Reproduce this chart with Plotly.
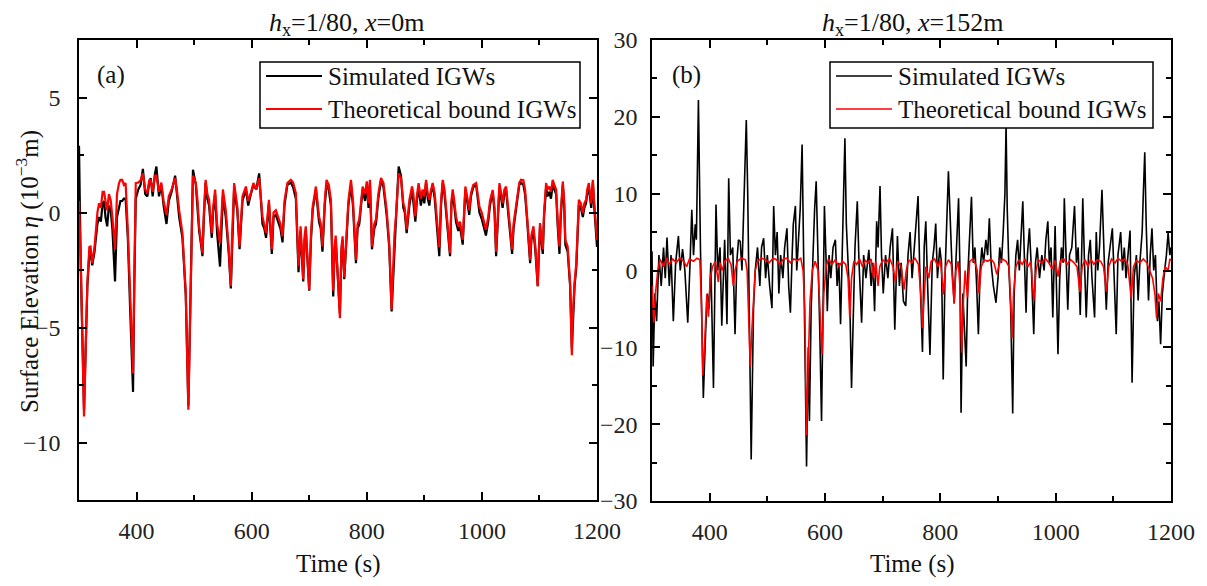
import plotly.graph_objects as go

# ---------------- Panel (a): x = 0 m ----------------
t_a = [300, 303, 308.7, 311, 314.5, 318, 320, 323, 327, 329, 332, 334.8, 338, 341, 343.5, 346, 349, 352, 355, 358,
       362.6, 366, 369.6, 372, 375, 378, 381, 385, 389, 393.9, 396, 398.6, 403, 407, 411, 415, 418.8, 422, 424.6, 428,
       432, 434.5, 439, 443, 447, 452, 456, 461, 467, 470, 474, 479.7, 485.5, 490, 492, 494, 496, 498, 503, 506,
       508.7, 512, 514.5, 517, 520, 523, 526, 530.7, 533, 536.5, 540, 545, 550, 555, 560, 563.8, 566, 569.6, 572, 575,
       579, 584, 590, 594, 598.6, 603, 608, 613, 618.8, 622, 625, 630, 635, 638, 642, 646, 650, 653.6, 657, 662,
       668, 672, 676.8, 681.4, 685, 689.6, 692, 694, 697, 700, 703, 706, 711.6, 714, 717, 720, 723, 727, 730, 734,
       737.7, 741.7, 744, 746, 749, 753.3, 756, 758, 760.9, 765, 768, 772.5, 776, 781.2, 784, 787, 790, 792.8, 797, 800,
       803, 805.5, 809, 813, 816, 820, 824.7, 829, 834.5, 839, 843.2, 846, 848, 850.7, 855.4, 859.4, 863.5, 866, 869.3, 874,
       878.6, 881, 884.4, 887, 890, 894, 897, 900, 903, 906, 908.7, 911, 914.5, 918, 922, 926, 929, 932, 935, 938.9,
       941, 944.7, 947, 949.3, 952, 955, 959, 962, 966.7, 969, 971.3, 975, 978, 981, 985, 990, 993, 995.7, 1000, 1003,
       1007, 1011, 1014, 1018.8, 1022, 1024.7, 1027, 1030.5, 1033, 1036, 1039, 1042, 1046, 1049, 1052.5, 1055, 1058, 1062.3, 1065, 1068,
       1072, 1075, 1078.5, 1081, 1083.8, 1086, 1089.6, 1093, 1097, 1099, 1101, 1103, 1105.8, 1108, 1111.6, 1114, 1117, 1120, 1123, 1126,
       1129, 1132, 1134.8, 1137, 1140.6, 1143, 1145, 1149, 1153.3, 1156.3, 1158, 1161, 1164, 1166, 1168.4, 1172, 1175.4, 1178, 1181, 1183,
       1185.8, 1190, 1192.8, 1195, 1198.6, 1200]

theo_a = [0.5, -2, -8.87, -6, -3.07, -1.5, -1.48, -2.2, -1.5, -0.9, 0, 0.4, 0.2, 0.9, 0.9, 0.5, 0.1, 0.8, 0.55, -0.2,
          -1.6, 0.8, 1.28, 1.42, 1.42, 1.2, 1.28, -0.9, -4, -7.0, -3, 1.28, 1.3, 1.4, 1.7, 1.0, 0.84, 1.4, 1.42, 0.9,
          1.6, 1.6, 0.9, 1.3, 0.5, -0.1, 0.7, 1.0, 1.5, 1.0, 0.1, -0.9, -3.5, -8.58, -6, -3.07, 0, 1.6, 1.28, 0.5,
          -0.6, -1.2, -1.77, 0, 1.42, 0.8, 0.55, -0.9, 0.2, 1.0, -0.5, -1.33, 1.0, 0.1, -1.5, -3.2, -1, 1.28, 0.8, 0.26,
          -1.48, 0.7, 1.13, 0.5, 0.84, 1.28, 1.0, 1.5, -0.17, -0.5, -0.9, 0.55, -1.6, 0, 0.1, -0.2, -0.5, -1.04, 0.5, 1.28,
          1.42, 1.3, 0.84, -2.35, -0.6, -2.9, -1, -0.6, -2, -3.36, -1, 0.26, 1.13, 0.5, -0.17, -0.5, -1.48, 0.5, 1.42, 1.2,
          0.55, -3.4, -1.5, -1, -2.5, -4.6, -1.5, -1.04, -2.8, -0.5, 0.5, 1.42, 0.55, -2.06, -0.5, -0.3, 0.5, 1.13, 0.8, 1.35,
          0.4, 1.42, -1.48, -0.5, -0.3, 0.8, 1.5, 1.28, 0.1, -1.33, -4.23, -2.5, -1, -0.17, 1.7, 1.5, 0.4, 0.2, -0.75, 0.55,
          1.13, 0.8, -0.17, 0.7, 1.28, 0.6, 1.0, 0.7, 1.42, 0.8, 0.55, 0.9, 1.28, 0.84, -0.3, -1.5, 0.5, 1.42, 1.0, -0.17,
          -0.8, -1.77, 0.5, 1.0, 0.5, -0.17, -0.6, -0.4, -1.19, 0, 1.13, 0.6, 0.1, 0.84, 1.2, 1.28, 0.8, 0.26, -0.03, -0.4,
          -0.75, -0.2, 0.5, 0.98, 0.2, -1.7, -0.5, 1.28, 0.9, 0.4, 1.0, 1.13, 0.1, -0.6, -1.6, -0.5, 0, 0.84, 1.3, 1.42,
          1.4, 1.0, -0.03, -1, -2.06, -1, -0.6, -1.5, -3.2, -1.5, -0.46, -1, -1.6, 0, 1.28, 1.0, 1.13, 0.9, 1.42, 1.2,
          1.0, -0.5, -1.48, 0, 1.35, 0.5, -1.19, -1.48, -3.07, -6.2, -4.5, -3.07, -2.2, -1, 0.55, 0.4, -0.03, 0.4, 0.55, 1.0,
          1.28, 0.4, 1.42, 0.5, -1.04, -1.2]

sim_a = [2.9, -2.3, -8.6, -6.2, -3.2, -1.8, -1.7, -2.3, -1.7, -1.2, -0.5, -0.2, -0.4, 0.4, 0.5, -0.2, -0.6, 0.3, 0.1, -0.7,
         -3.0, -0.2, 0.2, 0.5, 0.5, 0.6, 0.6, -1.2, -4.3, -7.8, -3.3, 0.6, 1.0, 1.2, 1.9, 0.8, 0.7, 1.3, 1.5, 0.7,
         1.7, 2.0, 0.7, 1.2, 0.3, -0.5, 0.5, 0.9, 1.6, 0.8, -0.2, -1.1, -3.6, -8.4, -6, -3.2, 0, 1.86, 1.2, 0.3,
         -0.8, -1.4, -1.9, -0.2, 1.3, 0.6, 0.3, -1.1, 0, 0.8, -0.9, -2.35, 0.7, -0.2, -1.7, -3.3, -1.2, 1.1, 0.6, 0.1,
         -1.6, 0.5, 1.0, 0.3, 0.8, 1.2, 1.0, 1.7, -0.5, -0.7, -1.1, 0.4, -1.8, -0.2, -0.1, -0.4, -0.7, -1.3, 0.3, 1.2,
         1.3, 1.1, 0.6, -2.6, -0.8, -3.0, -1.2, -0.8, -2.2, -3.4, -1.2, 0.1, 1.0, 0.3, -0.4, -0.7, -1.7, 0.3, 1.2, 1.0,
         0.3, -3.65, -1.7, -1.2, -2.7, -4.4, -1.7, -1.2, -2.9, -0.7, 0.3, 1.2, 0.3, -2.2, -0.7, -0.5, 0.3, 1.0, 0.5, 1.2,
         0.2, 1.3, -1.6, -0.7, -0.5, 0.6, 1.4, 1.1, -0.1, -1.5, -4.3, -2.6, -1.2, -0.3, 2.0, 1.6, 0.2, 0, -0.9, 0.3,
         1.0, 0.5, -0.4, 0.5, 1.1, 0.3, 0.8, 0.4, 1.3, 0.6, 0.3, 0.8, 1.2, 0.6, -0.5, -1.9, 0.3, 1.3, 0.8, -0.4,
         -1.0, -1.9, 0.3, 0.8, 0.3, -0.4, -0.8, -0.6, -1.4, -0.2, 1.0, 0.4, -0.1, 0.7, 1.1, 1.2, 0.6, 0, -0.3, -0.6,
         -1.0, -0.4, 0.3, 0.9, 0, -1.9, -0.7, 1.1, 0.7, 0.2, 0.8, 1.0, -0.1, -0.8, -1.8, -0.7, -0.2, 0.7, 1.2, 1.3,
         1.2, 0.8, -0.3, -1.2, -2.2, -1.2, -0.8, -1.7, -3.2, -1.7, -0.6, -1.2, -1.8, -0.2, 1.1, 0.7, 0.9, 0.6, 1.2, 1.0,
         0.8, -0.7, -1.8, -0.2, 1.2, 0.3, -1.4, -1.7, -3.2, -5.9, -4.6, -3.2, -2.4, -1.2, 0.3, 0.2, -0.2, 0.2, 0.4, 0.8,
         1.1, 0.2, 1.3, 0.3, -1.3, -1.5]

# ---------------- Panel (b): x = 152 m ----------------
t_b_sim = [300, 302, 305, 308, 312, 316, 320, 323, 326, 330, 333, 337, 341, 345.8, 349, 353, 357, 362, 366, 369,
           372, 375, 377, 380.5, 384, 389, 393, 396, 399, 402, 406.6, 409, 411, 414, 418, 421, 424, 426, 430, 433,
           436, 440, 444, 447, 450, 453, 456, 459, 461, 463.5, 466, 468, 472, 476, 479, 483, 487, 490, 493.6, 497,
           500, 504, 508, 511, 514, 517, 520, 523, 527, 530, 534, 537, 540, 543, 545, 548.7, 551, 554, 557, 560.3,
           562, 565, 568, 571, 573, 576, 579, 582, 584.7, 588, 591, 594, 597, 599, 602, 604, 607, 610, 614, 618,
           621, 624, 627, 630, 632, 634.5, 637, 640, 643, 646, 649, 652, 656, 659, 663.5, 667, 671, 676, 680, 683,
           686, 689.6, 692, 695.4, 698, 701, 705, 709, 713, 717, 721, 724, 725.6, 729, 732, 736, 740, 744, 747.5, 751,
           754, 758, 761.4, 764, 769, 772, 774.8, 778, 782, 786, 789, 792, 795, 799, 802, 805, 808, 811, 814, 817,
           820, 824, 828, 831.6, 834, 836, 839, 841, 844.8, 848, 851, 854, 857, 860, 863, 866, 869, 872, 875, 879,
           882, 885, 888, 892, 896.5, 900, 903, 906, 909, 912, 914, 916, 919, 922, 925.5, 928, 931, 934, 937, 940,
           943, 946, 948.7, 951, 954.5, 958, 962, 965, 968, 972, 976, 980, 983, 986.4, 989, 992, 995, 999, 1001, 1004,
           1007, 1010, 1013, 1015, 1018, 1021, 1024, 1028, 1032.7, 1036, 1039, 1042.6, 1045, 1047, 1050, 1053, 1057, 1060, 1063, 1067.5,
           1070.4, 1073, 1076, 1080.3, 1084, 1087.8, 1091, 1094, 1098.3, 1101, 1105, 1108, 1112.7, 1116, 1119, 1122, 1126, 1129, 1132.5, 1136,
           1140, 1143, 1146, 1150, 1152, 1154.5, 1157, 1161, 1164, 1167, 1170, 1173, 1176.5, 1179, 1182, 1185, 1189, 1192, 1195, 1198,
           1200]

sim_b = [2.5, -12.5, -3, -6.6, 2, -2, 3, -1, 4.3, -2, 2, -6.6, 1, 4.5, 0, 2.8, 0, -6.8, 1, 7.9,
         2, 6, 4, 22.2, 3, -16.6, -8, -3, -5, 1, -15.3, -2, 8.6, 0, 3, -7.2, 1, 4, -7, 12.0,
         2, 3, -8.3, 1, 4, 3.8, 0, 8, 15, 19.6, 10, 0, -24.6, -5, 0, 3, -2, 3, 4.2, -1,
         2, -2, -4.9, 8.4, 2, 5, -3, 2, -1, 3, 5.5, -2, -5.5, 2, 6, 8.4, 0, 4, 8, 16.4,
         8, -8, -25.5, -10, -19.6, -5, 3, 8, 11.6, 2, -8, -19.6, -3, 8.4, 1, -5.3, 2, -1, 3, 4,
         -2, 1, -7, 4, 10, 17.2, 6, 0, -4, -15.3, -4, 3, 9, 1, -6.8, 2, -1, 2.7, -2, 1,
         -5.3, 6.4, 3, 11.0, 2, -3, 2, -1, 3, 5.5, -7.7, 1, 4.5, -2, 1, -4, -4.6, 2, 5.0, -1,
         2, 5, 9.7, 1, -10.6, 3, 6.4, -2, -11, 1, 3, 6.1, -1, 3, 1, -14.2, -1, 6, 12.9, 7,
         1, -4.3, 4, 9.4, 0, -18.5, -3, -6, -12.5, 0, 5, 9.6, 1, 3, -2, -8.3, 0, 3, 1, 4,
         2, 6.8, 1, -2, -4.2, -1, 3, 1, 5, 10, 19.0, 8, 0, -5, -18.6, -3, 2, 4, 0, 4,
         9.0, 1, -5.5, 2, 5.5, 0, -8.3, 1, 3, -1, 2, 0, 4, 6.4, 1, 3, -6.1, 5.8, 0, -10.9,
         -1, 3, 1, 9.4, 2, -5.1, 2, 3, 8.4, 1, 3, -5.8, 2, 9.4, 1, -6.1, 2, 4, -1, -6.1,
         5.0, 0, 3, 10.5, 2, -5.1, 1, 3, 5.5, 0, -8.3, 2, 5.0, 0, 3, -1, 2, 5.2, -14.6, -1,
         2, -3.9, 1, 5, 10, 15.4, 6, -3.9, 2, 5.5, 0, 2, -6.6, -4, -9.6, -3, 0, 2, 4.9, 2,
         3]

t_b_theo = [300, 303, 306, 310, 314, 320, 325, 330, 336, 342, 348, 355, 360, 365, 372, 378, 383, 386, 388, 391,
            395, 398, 401, 405, 410, 415, 418, 422, 426, 432, 437, 441, 444, 448, 455, 462, 465, 468, 470.4, 473,
            476, 479, 483, 490, 497, 503, 510, 516, 522, 528, 534, 540, 546, 552, 558, 562, 565, 568, 571, 574,
            578, 583, 588, 591, 595, 598, 602, 606, 612, 618, 624, 630, 636, 640, 643, 646, 650, 655, 660, 665,
            670, 675, 680, 684, 688, 692, 695, 700, 706, 712, 718, 722, 726, 732, 737, 741, 745, 750, 756, 762,
            766, 769, 772, 775, 780, 784, 790, 796, 800, 805.6, 809, 814, 819, 824, 827, 831, 834, 837, 840, 843,
            847, 851, 856, 861, 864, 867, 871, 876, 882, 888, 893, 898, 903, 908, 914, 919, 922, 924.4, 927, 931,
            936, 942, 947, 952, 957, 962, 966, 970, 976, 982, 988, 994, 999, 1004, 1008, 1014, 1020, 1026, 1032, 1037,
            1042, 1046, 1051, 1056, 1061, 1066, 1072, 1078, 1083, 1088, 1092, 1097, 1103, 1108, 1114, 1120, 1125, 1131, 1135, 1140,
            1146, 1152, 1158, 1163, 1168, 1172, 1175, 1178, 1182, 1186, 1190, 1195, 1198, 1200]

theo_b = [-2, -6.8, -3, 0, 1.5, 0.5, 1.6, 0.8, 1.5, 1.0, 1.6, 1.2, 0.5, 1.5, 1.2, 1.6, 1.4, -5, -13.6, -10,
          -3.1, -6, -1, 0.5, 1.2, -1.5, 1.0, 0, 1.2, 1.6, 0.8, -2, 0, 1.2, 1.6, 1.4, 0, -6, -12.5, -8,
          -3, 0, 1.2, 1.6, 1.4, 1.0, 1.6, 1.4, 0.8, 1.5, 1.6, 1.0, 1.5, 1.3, 1.6, 0, -5, -21.4, -12, -4,
          0, 1.2, 0, -4, -10.9, -3, 0.5, 1.5, 0.8, 1.4, 0.5, 1.2, 0.8, -1, -6.2, -1, 1.2, 0.8, 1.5, 0.5,
          1.3, 1.0, 1.5, -1, 1.2, -2, 0.5, 1.4, 1.0, 1.6, 0.5, -1.5, 1.2, 0.5, -2.5, 0, 1.4, 1.0, 1.6, 0.8,
          -3, -7.5, -3, 0.5, -1.0, 1.2, 1.5, 0.5, 1.5, -3.1, 0.5, 1.4, 0.8, -4.3, 0, 1.2, -2, -10.7, -4, 0,
          -3.5, 1.2, 1.5, 0.8, 0, -3, 0.5, 1.4, 1.2, 1.5, 1.0, -0.5, 1.0, 1.5, 1.2, 0.5, -4, -8.8, -3, 0.5,
          1.4, 0.8, 1.5, 0.5, 1.2, -3.9, 0, 1.4, 1.0, 1.6, 1.0, 0.2, 1.3, -0.8, 1.2, 1.5, 0.8, 1.4, 1.0, 0.5,
          -2.8, 0.5, 1.4, 0.5, 1.5, 0.8, 1.4, 1.2, 0.5, -2.8, 0.5, 1.5, 1.0, 1.6, 1.2, 1.5, 0.8, -3.6, 0.5, 1.3,
          1.0, 1.5, 1.0, 0, -1, -3, -6.2, -3, -4, -1, 0.5, 0, 1.5, 1.3]

series_names = ["Simulated IGWs", "Theoretical bound IGWs"]
series_colors = ["black", "#ff0000"]
x_ticks = [400, 600, 800, 1000, 1200]
ya_ticks = [-10, -5, 0, 5]
yb_ticks = [-30, -20, -10, 0, 10, 20, 30]

SERIF = "Liberation Serif, Times New Roman, serif"
OFF = 8                      # default page margin of the html body
W, H = 1207 - 2 * OFF, 586 - 2 * OFF


def px(xp):
    return (xp - OFF) / W


def py(yp):
    return 1 - (yp - OFF) / H


fig = go.Figure()
fig.add_trace(go.Scatter(x=t_a, y=sim_a, mode="lines", name=series_names[0],
                         line=dict(color=series_colors[0], width=2.2), xaxis="x", yaxis="y"))
fig.add_trace(go.Scatter(x=t_a, y=theo_a, mode="lines", name=series_names[1],
                         line=dict(color=series_colors[1], width=2.2), xaxis="x", yaxis="y"))
fig.add_trace(go.Scatter(x=t_b_sim, y=sim_b, mode="lines", name=series_names[0],
                         line=dict(color=series_colors[0], width=1.6), xaxis="x2", yaxis="y2"))
fig.add_trace(go.Scatter(x=t_b_theo, y=theo_b, mode="lines", name=series_names[1],
                         line=dict(color=series_colors[1], width=1.6), xaxis="x2", yaxis="y2"))

axis_common = dict(
    showline=True, linecolor="black", linewidth=1.5, mirror="ticks",
    ticks="inside", ticklen=8, tickwidth=1.5, tickcolor="black",
    showgrid=False, zeroline=False, automargin=False,
    tickfont=dict(family=SERIF, size=24, color="#222"),
)
minor_x = dict(dtick=100, tick0=300, ticks="inside", ticklen=5, tickwidth=1.5, tickcolor="black")

fig.update_layout(
    template="none",
    width=W, height=H,
    margin=dict(l=0, r=0, t=0, b=0, pad=0, autoexpand=False),
    paper_bgcolor="white", plot_bgcolor="white",
    showlegend=False,
    xaxis=dict(domain=[px(79), px(597)], range=[300, 1200], tickvals=x_ticks, anchor="y",
               minor=minor_x, ticklabelstandoff=8, **axis_common),
    yaxis=dict(domain=[py(500), py(40)], range=[-12.5, 7.5], tickvals=ya_ticks, anchor="x",
               minor=dict(dtick=2.5, tick0=0, ticks="inside", ticklen=5, tickwidth=1.5, tickcolor="black"),
               ticklabelstandoff=12, **axis_common),
    xaxis2=dict(domain=[px(652), px(1171)], range=[300, 1200], tickvals=x_ticks, anchor="y2",
                minor=minor_x, ticklabelstandoff=8, **axis_common),
    yaxis2=dict(domain=[py(501), py(40)], range=[-30, 30], tickvals=yb_ticks, anchor="x2",
                minor=dict(dtick=5, tick0=0, ticks="inside", ticklen=5, tickwidth=1.5, tickcolor="black"),
                ticklabelstandoff=8, **axis_common),
)

# Legend boxes (drawn as shapes + text so that their size matches the figure)
shapes = []
annotations = []
leg_font = dict(family=SERIF, size=25, color="#111")
for (bx0, bx1), lw in (((260, 580), 2.2), ((830, 1153), 1.6)):
    shapes.append(dict(type="rect", xref="paper", yref="paper", x0=px(bx0), x1=px(bx1), y0=py(128), y1=py(62),
                       line=dict(color="black", width=1.5), fillcolor="white", layer="above"))
    for i, row_y in enumerate((76, 109)):
        shapes.append(dict(type="line", xref="paper", yref="paper", x0=px(bx0 + 6), x1=px(bx0 + 62),
                           y0=py(row_y), y1=py(row_y), line=dict(color=series_colors[i], width=lw), layer="above"))
        annotations.append(dict(text=series_names[i], x=px(bx0 + 66), y=py(row_y), xref="paper", yref="paper",
                                showarrow=False, font=leg_font, xanchor="left", yanchor="middle"))

ann_font = dict(family=SERIF, size=25, color="#111")
title_font = dict(family=SERIF, size=26, color="#111")
annotations += [
    dict(text="<i>h</i><sub>x</sub>=1/80, <i>x</i>=0m", x=px(346), y=py(24), xref="paper", yref="paper",
         showarrow=False, font=title_font, xanchor="center", yanchor="middle"),
    dict(text="<i>h</i><sub>x</sub>=1/80, <i>x</i>=152m", x=px(912), y=py(24), xref="paper", yref="paper",
         showarrow=False, font=title_font, xanchor="center", yanchor="middle"),
    dict(text="(a)", x=px(95), y=py(75), xref="paper", yref="paper", showarrow=False,
         font=ann_font, xanchor="left", yanchor="middle"),
    dict(text="(b)", x=px(670), y=py(75), xref="paper", yref="paper", showarrow=False,
         font=ann_font, xanchor="left", yanchor="middle"),
    dict(text="Time (s)", x=px(338), y=py(564), xref="paper", yref="paper", showarrow=False,
         font=ann_font, xanchor="center", yanchor="middle"),
    dict(text="Time (s)", x=px(912), y=py(564), xref="paper", yref="paper", showarrow=False,
         font=ann_font, xanchor="center", yanchor="middle"),
    dict(text="Surface Elevation <i>η</i> (10<sup>−3</sup>m)", x=px(27), y=py(272), xref="paper", yref="paper",
         showarrow=False, font=ann_font, textangle=-90, xanchor="center", yanchor="middle"),
]
fig.update_layout(shapes=shapes, annotations=annotations)

fig.write_html("out.html")
